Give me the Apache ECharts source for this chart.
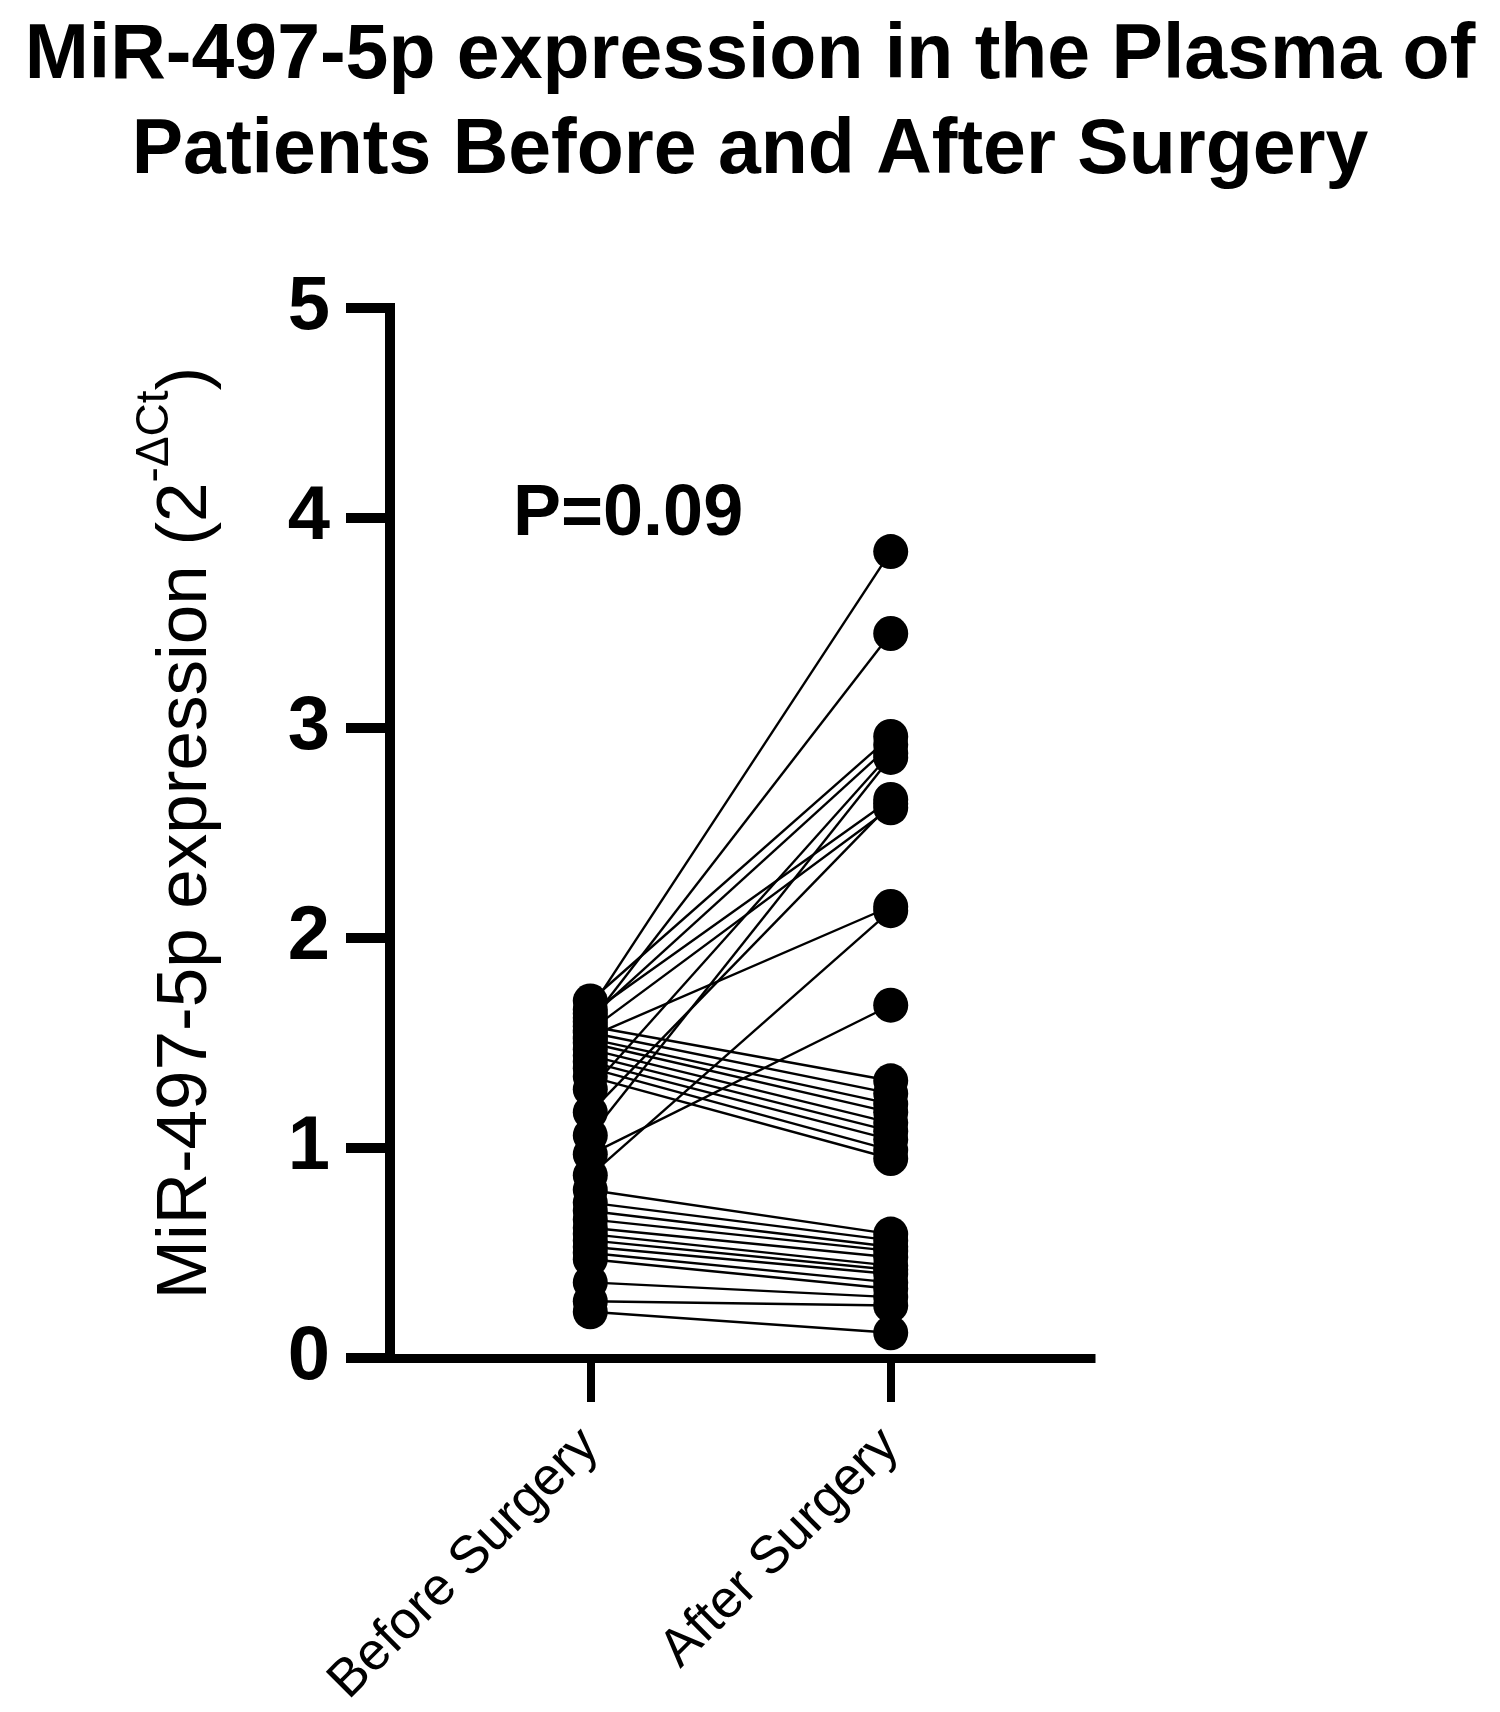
<!DOCTYPE html>
<html>
<head>
    <meta charset="utf-8">
    <title>MiR-497-5p expression before and after surgery</title>
    <script type="text/javascript" src="https://cdn.jsdelivr.net/npm/echarts@6/dist/echarts.min.js"></script>
    <style>
        html, body { margin: 0; padding: 0; background: #fff; }
    </style>
</head>
<body>
    <div id="main" style="width:1500px; height:1712px;"></div>
    <script type="text/javascript">

    // group names and their x positions on the value axis
    var groupNames = ['Before Surgery', 'After Surgery'];
    var groupX = [2, 5];
    var yTicks = [0, 1, 2, 3, 4, 5];

    // paired values, one entry per patient (2^-ΔCt)
    var beforeSurgery = [
        1.66, 1.60, 1.70, 1.62, 1.28, 1.06, 1.64, 1.56, 1.17, 1.53, 0.87, 0.97,
        1.58, 1.55, 1.52, 1.50, 1.47, 1.44, 1.41, 1.38, 1.34,
        0.80, 0.74, 0.70, 0.66, 0.62, 0.59, 0.56, 0.53, 0.50, 0.47, 0.36, 0.27, 0.22
    ];
    var afterSurgery = [
        3.84, 3.45, 2.96, 2.92, 2.88, 2.86, 2.66, 2.62, 2.64, 2.15, 2.13, 1.68,
        1.32, 1.26, 1.21, 1.17, 1.12, 1.08, 1.04, 0.99, 0.95,
        0.59, 0.56, 0.53, 0.51, 0.48, 0.44, 0.42, 0.40, 0.36, 0.33, 0.29, 0.25, 0.12
    ];

    var font = "'Liberation Sans', Arial, sans-serif";
    var myChart = echarts.init(document.getElementById('main'));

    // one thin line per patient
    var series = beforeSurgery.map(function (b, i) {
        return {
            type: 'line',
            data: [[groupX[0], b], [groupX[1], afterSurgery[i]]],
            symbol: 'none',
            silent: true,
            lineStyle: { color: '#000', width: 2.4 },
            z: 2
        };
    });

    // dots on top
    var dots = [];
    beforeSurgery.forEach(function (b, i) {
        dots.push([groupX[0], b]);
        dots.push([groupX[1], afterSurgery[i]]);
    });
    series.push({
        type: 'scatter',
        data: dots,
        symbol: 'circle',
        symbolSize: 35,
        itemStyle: { color: '#000', opacity: 1 },
        z: 3
    });

    var option = {
        backgroundColor: '#fff',
        animation: false,
        title: [{
            text: 'MiR-497-5p expression in the Plasma of\nPatients Before and After Surgery',
            left: 'center',
            top: 4,
            textStyle: {
                fontFamily: font,
                fontSize: 77,
                fontWeight: 'bold',
                color: '#000',
                lineHeight: 95
            }
        }, {
            text: 'P=0.09',
            left: 508,
            top: 474,
            textStyle: {
                fontFamily: font,
                fontSize: 72,
                fontWeight: 'bold',
                color: '#000'
            }
        }],
        grid: {
            left: 390,
            right: 409,
            top: 308,
            bottom: 354,
            outerBoundsMode: 'none'
        },
        xAxis: {
            type: 'value',
            min: 0,
            max: 7,
            splitLine: { show: false },
            axisLine: { lineStyle: { color: '#000', width: 9, cap: 'square' } },
            axisTick: {
                customValues: groupX,
                length: 44,
                lineStyle: { color: '#000', width: 8 }
            },
            axisLabel: {
                customValues: groupX,
                formatter: function (v) {
                    return groupNames[groupX.indexOf(v)];
                },
                rotate: 45,
                margin: 80,
                fontFamily: font,
                fontSize: 53,
                color: '#000'
            }
        },
        yAxis: {
            type: 'value',
            min: yTicks[0],
            max: yTicks[yTicks.length - 1],
            interval: 1,
            splitLine: { show: false },
            axisLine: { show: true, lineStyle: { color: '#000', width: 10, cap: 'square' } },
            axisTick: {
                show: true,
                length: 44,
                lineStyle: { color: '#000', width: 10 }
            },
            axisLabel: {
                margin: 60,
                fontFamily: font,
                fontSize: 76,
                fontWeight: 'bold',
                color: '#000'
            },
            name: '{a|MiR-497-5p expression (2}{sup|-ΔCt}{a|)}',
            nameLocation: 'middle',
            nameGap: 180,
            nameTextStyle: {
                rich: {
                    a: {
                        fontFamily: font,
                        fontSize: 71,
                        lineHeight: 78,
                        color: '#000',
                        padding: [30, 0, 0, 0]
                    },
                    sup: {
                        fontFamily: font,
                        fontSize: 46,
                        lineHeight: 46,
                        color: '#000',
                        verticalAlign: 'top'
                    }
                }
            }
        },
        series: series
    };

    myChart.setOption(option);
    </script>
</body>
</html>
